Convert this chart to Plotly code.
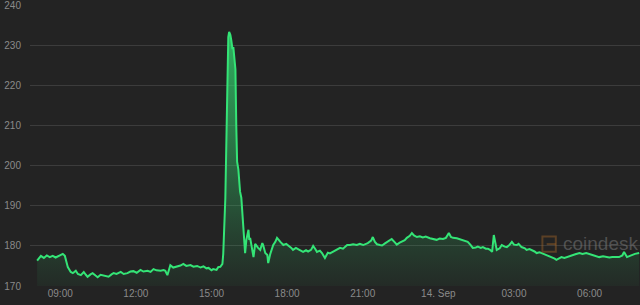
import plotly.graph_objects as go
from datetime import datetime, timedelta

# ---- data (time of day, price) ----
times = [
    "08:05","08:09","08:14","08:21","08:28","08:35","08:42","08:49","08:56","09:06","09:11","09:18","09:25","09:30",
    "09:37","09:42","09:49","09:56","10:01","10:05","10:12","10:17","10:24","10:29","10:36","10:41","10:48","10:55",
    "11:02","11:07","11:14","11:24","11:31","11:40","11:47","11:54","12:02","12:11","12:18","12:28","12:35","12:42",
    "12:49","12:59","13:06","13:10","13:15","13:22","13:29","13:39","13:46","13:53","14:00","14:10","14:17","14:26",
    "14:34","14:41","14:48","14:53","15:00","15:04","15:12","15:16","15:21","15:26","15:28","15:33","15:35","15:38",
    "15:40","15:42","15:45","15:47","15:50","15:52","15:54","15:57","15:59","16:01","16:04","16:06","16:08","16:11",
    "16:13","16:16","16:18","16:20","16:23","16:28","16:30","16:32","16:37","16:40","16:44","16:49","16:51","16:56",
    "17:01","17:03","17:08","17:13","17:15","17:20","17:27","17:32","17:36","17:44","17:51","17:58","18:02","18:10",
    "18:14","18:21","18:26","18:33","18:38","18:45","18:50","18:57","19:02","19:07","19:11","19:18","19:23","19:30",
    "19:37","19:42","19:49","19:56","20:06","20:13","20:23","20:30","20:37","20:46","20:53","21:01","21:08","21:12",
    "21:20","21:24","21:29","21:34","21:41","21:46","21:53","21:58","22:05","22:09","22:17","22:21","22:28","22:33",
    "22:40","22:45","22:52","22:57","23:02","23:09","23:16","23:23","23:30","23:40","23:47","23:56","00:03","00:11",
    "00:18","00:25","00:30","00:35","00:44","00:51","00:58","01:05","01:10","01:17","01:22","01:29","01:34","01:41",
    "01:46","01:53","01:58","02:03","02:08","02:12","02:17","02:19","02:26","02:31","02:38","02:43","02:50","02:55",
    "03:00","03:07","03:11","03:18","03:26","03:30","03:37","03:42","03:49","03:54","04:01","04:06","04:13","04:18",
    "04:25","04:30","04:37","04:41","04:49","04:53","05:00","05:05","05:12","05:19","05:26","05:36","05:43","05:52",
    "05:59","06:06","06:16","06:23","06:32","06:40","06:47","06:54","07:03","07:10","07:18","07:22","07:29","07:36",
    "07:41","07:48","07:58",
]
prices = [
    176.3,176.8,177.5,177.0,177.6,177.2,177.5,177.1,177.4,178.0,177.5,174.7,173.5,173.2,
    173.8,173.0,172.7,173.5,172.8,172.3,172.9,173.2,172.6,172.2,172.8,172.7,172.4,172.3,
    172.9,173.2,173.0,173.5,173.0,173.2,173.6,173.7,173.3,174.0,173.6,173.8,173.5,174.2,
    173.9,173.8,174.0,173.8,172.7,175.2,174.6,174.8,175.1,175.5,175.0,175.2,174.8,175.0,
    174.6,174.9,174.4,174.5,173.9,174.2,174.0,174.7,174.8,175.5,178.0,192.0,204.0,216.0,
    232.0,233.3,232.5,231.3,229.0,229.5,226.5,224.0,210.0,201.0,199.0,196.0,193.5,192.0,
    189.0,185.5,180.0,178.2,181.5,184.0,181.5,182.0,179.0,177.2,180.5,179.7,179.5,179.0,
    180.7,180.2,178.2,177.7,175.7,178.0,180.2,181.0,182.0,181.0,180.2,180.5,180.2,179.5,
    179.0,179.5,179.2,178.8,178.5,178.9,178.6,179.0,180.0,179.2,178.5,178.8,178.2,177.0,
    178.3,178.1,178.5,179.0,179.5,179.3,180.2,180.2,180.4,180.2,180.5,180.2,180.5,180.7,
    181.3,182.2,181.0,180.4,180.2,180.1,180.6,181.0,181.4,181.7,180.8,180.3,180.8,181.0,
    181.4,182.0,182.5,183.2,182.6,182.2,182.4,182.1,182.3,181.9,181.8,181.5,181.8,181.7,
    182.0,183.2,182.2,182.0,181.9,181.7,181.5,181.3,181.0,180.2,179.5,179.6,179.8,179.5,
    179.7,179.3,179.3,179.0,178.5,182.7,179.5,179.0,179.4,180.2,179.8,179.7,180.3,181.0,
    180.3,180.2,180.5,179.7,179.4,179.0,179.2,179.0,178.6,178.2,178.4,178.2,177.9,177.7,
    177.3,177.0,176.8,176.5,177.0,177.2,177.0,177.2,177.5,177.7,177.9,178.2,178.0,178.2,
    178.0,177.7,177.5,177.2,177.4,177.3,177.1,177.2,177.3,177.2,177.6,178.5,177.2,177.5,
    177.7,178.0,178.2,
]
y_ticks = [170, 180, 190, 200, 210, 220, 230, 240]
x_tick_labels = ["09:00", "12:00", "15:00", "18:00", "21:00", "14. Sep", "03:00", "06:00"]

# build datetimes (roll over midnight)
day0 = datetime(2019, 9, 13)
xs = []
day = 0
prev = -1
for t in times:
    h, m = map(int, t.split(":"))
    mins = h * 60 + m
    if mins < prev:
        day += 1
    prev = mins
    xs.append(day0 + timedelta(days=day, minutes=mins))

tick_vals = [day0 + timedelta(hours=9 + 3 * i) for i in range(len(x_tick_labels))]

GREEN = "rgb(52,228,118)"
BG = "#232323"

fig = go.Figure()
fig.add_trace(go.Scatter(
    x=xs, y=prices, mode="lines",
    line=dict(color=GREEN, width=2),
    fill="tozeroy",
    fillgradient=dict(
        type="vertical", start=170, stop=234,
        colorscale=[[0, "rgba(52,228,118,0.04)"], [0.2, "rgba(52,228,118,0.16)"], [1, "rgba(52,228,118,0.75)"]],
    ),
    hoverinfo="skip",
))

fig.update_layout(
    width=640, height=305,
    margin=dict(l=30, r=0, t=5, b=19),
    paper_bgcolor=BG, plot_bgcolor=BG,
    showlegend=False,
    font=dict(family="Liberation Sans, Arial, sans-serif", size=10, color="#8a8a8a"),
    xaxis=dict(
        range=[day0 + timedelta(hours=7, minutes=48), day0 + timedelta(days=1, hours=8)],
        tickvals=tick_vals, ticktext=x_tick_labels,
        showgrid=False, zeroline=False, showline=False, ticks="",
        tickfont=dict(size=10, color="#8a8a8a"),
    ),
    yaxis=dict(
        range=[170, 240], tickvals=y_ticks,
        showgrid=True, gridcolor="#3c3c3c", gridwidth=1,
        zeroline=False, showline=False, ticks="",
        tickfont=dict(size=10, color="#8a8a8a"),
        ticklabelstandoff=8, ticklabeloverflow="allow",
    ),
)

# coindesk watermark
fig.add_annotation(
    xref="paper", yref="paper", x=1.0, y=0.15, xanchor="right", yanchor="middle",
    text="coindesk", showarrow=False,
    font=dict(family="Liberation Sans, Arial, sans-serif", size=19, color="rgba(120,120,120,0.55)"),
)
logo = "rgba(160,100,40,0.45)"
fig.add_shape(type="rect", xref="paper", yref="paper", x0=0.840, x1=0.862, y0=0.122, y1=0.176,
              line=dict(color=logo, width=2), fillcolor="rgba(0,0,0,0)")
fig.add_shape(type="line", xref="paper", yref="paper", x0=0.847, x1=0.862, y0=0.149, y1=0.149,
              line=dict(color=logo, width=2))

fig.write_html("out.html")
